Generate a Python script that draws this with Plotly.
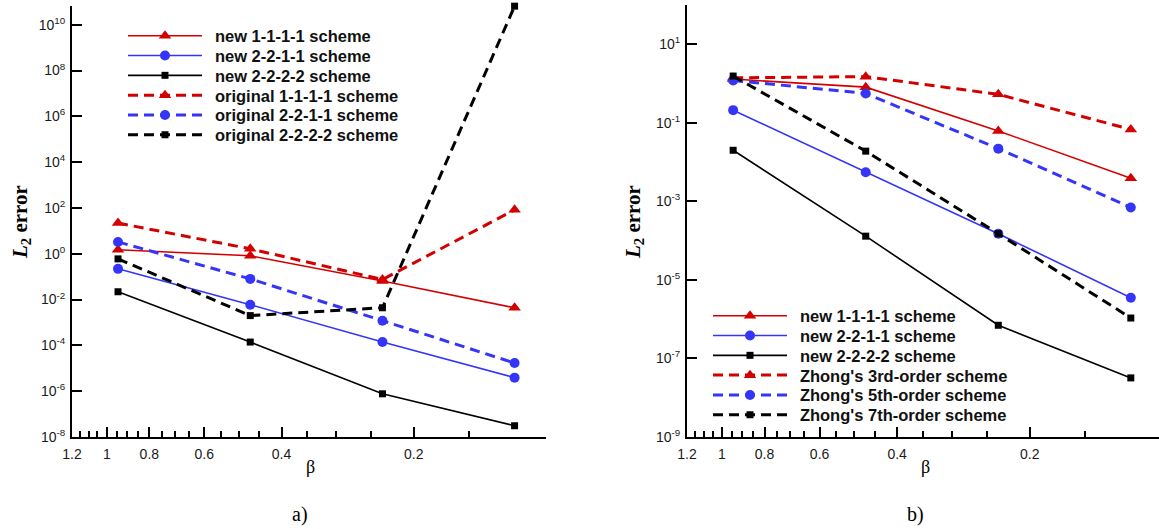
import plotly.graph_objects as go

W, H = 1159, 529

beta = [0.9428, 0.4714, 0.2357, 0.1179]

# panel a) values
a_new_1111 = [1.5, 0.82, 0.065, 0.0044]
a_new_2211 = [0.22, 0.006, 1.4e-4, 3.9e-6]
a_new_2222 = [0.022, 1.4e-4, 7.7e-7, 3.1e-8]
a_orig_1111 = [22, 1.65, 0.075, 83]
a_orig_2211 = [3.3, 0.08, 1.2e-3, 1.7e-5]
a_orig_2222 = [0.6, 2.0e-3, 4.4e-3, 6.5e10]

# panel b) values
b_new_1111 = [1.3, 0.81, 0.062, 0.0039]
b_new_2211 = [0.21, 0.0055, 1.5e-4, 3.5e-6]
b_new_2222 = [0.02, 1.3e-4, 7e-7, 3.2e-8]
b_zhong3 = [1.4, 1.5, 0.53, 0.068]
b_zhong5 = [1.2, 0.56, 0.022, 7e-4]
b_zhong7 = [1.55, 0.019, 1.5e-4, 1.07e-6]

names_a = ["new 1-1-1-1 scheme", "new 2-2-1-1 scheme", "new 2-2-2-2 scheme",
           "original 1-1-1-1 scheme", "original 2-2-1-1 scheme", "original 2-2-2-2 scheme"]
names_b = ["new 1-1-1-1 scheme", "new 2-2-1-1 scheme", "new 2-2-2-2 scheme",
           "Zhong's 3rd-order scheme", "Zhong's 5th-order scheme", "Zhong's 7th-order scheme"]

x_major = [1.2, 1, 0.8, 0.6, 0.4, 0.2]
x_major_text = ["1.2", "1", "0.8", "0.6", "0.4", "0.2"]
x_minor = [1.15, 1.1, 1.05, 0.95, 0.9, 0.85, 0.75, 0.7, 0.65, 0.55, 0.5, 0.45,
           0.35, 0.3, 0.25, 0.15]
ya_exp = [-8, -6, -4, -2, 0, 2, 4, 6, 8, 10]
yb_exp = [-9, -7, -5, -3, -1, 1]

RED = "#d40000"
BLUE = "#3535f8"
BLACK = "#000000"
colors = [RED, BLUE, BLACK, RED, BLUE, BLACK]
symbols = ["triangle-up", "circle", "square", "triangle-up", "circle", "square"]
msizes = [11, 10, 7, 11, 10, 7]
DASH = "10px,6px"
PAD = "\u00a0\u2009"

# legend placement (pixels): left edge of sample line, first row centre, row step
LEG_A = (128, 36, 19.8)
LEG_B = (713, 316, 19.8)

legfont = dict(family="Liberation Sans, Arial", size=16.5, color="#111", weight="bold")

fig = go.Figure()
legends = {}

def add_set(series, names, xa, ya, leg_start, legpos):
    x0, y0, dy = legpos
    for i, (vals, nm) in enumerate(zip(series, names)):
        dashed = i >= 3
        lid = "legend" if leg_start + i == 1 else "legend%d" % (leg_start + i)
        legends[lid] = dict(
            x=(x0 - 5) / W, y=1 - (y0 + i * dy) / H, xanchor="left", yanchor="middle",
            bgcolor="rgba(0,0,0,0)", font=legfont, itemwidth=74, borderwidth=0,
        )
        fig.add_trace(go.Scatter(
            x=beta, y=vals, name=PAD + nm, mode="lines+markers",
            xaxis=xa, yaxis=ya, legend=lid, cliponaxis=False,
            line=dict(color=colors[i], width=3 if dashed else 1.6,
                      dash=DASH if dashed else "solid"),
            marker=dict(symbol=symbols[i], size=msizes[i], color=colors[i],
                        line=dict(width=0)),
        ))

add_set([a_new_1111, a_new_2211, a_new_2222, a_orig_1111, a_orig_2211, a_orig_2222],
        names_a, "x", "y", 1, LEG_A)
add_set([b_new_1111, b_new_2211, b_new_2222, b_zhong3, b_zhong5, b_zhong7],
        names_b, "x2", "y2", 7, LEG_B)

tickfont = dict(family="Liberation Sans, Arial", size=14, color="#1a1a1a")

def xaxis_cfg(domain, rng):
    return dict(
        type="log", domain=domain, range=rng, automargin=False,
        tickmode="array", tickvals=x_major, ticktext=x_major_text,
        ticks="inside", ticklen=10, tickwidth=2, tickcolor="black",
        showline=True, linewidth=2, linecolor="black", mirror=False,
        showgrid=False, zeroline=False, tickfont=tickfont, ticklabelstandoff=3,
        minor=dict(tickmode="array", tickvals=x_minor, ticks="inside",
                   ticklen=6, tickwidth=1.5, tickcolor="black", showgrid=False),
    )

def yaxis_cfg(domain, rng, exps):
    return dict(
        type="log", domain=domain, range=rng, automargin=False,
        tickmode="array", tickvals=[10.0 ** e for e in exps],
        ticktext=["10<sup>%d</sup>" % e for e in exps],
        ticks="inside", ticklen=10, tickwidth=2, tickcolor="black",
        showline=True, linewidth=2, linecolor="black",
        showgrid=False, zeroline=False, tickfont=tickfont, ticklabelstandoff=2,
    )

xa = xaxis_cfg([72 / W, 546 / W], [0.0792, -1.0])
xa["anchor"] = "y"
xb = xaxis_cfg([687 / W, 1.0], [0.0792, -0.9925])
xb["anchor"] = "y2"
ya = yaxis_cfg([1 - 437 / H, 1 - 6 / H], [-8, 10.82], ya_exp)
ya["anchor"] = "x"
yb = yaxis_cfg([1 - 437 / H, 1 - 5 / H], [-9, 2], yb_exp)
yb["anchor"] = "x2"

fig.update_layout(
    width=W, height=H, margin=dict(l=0, r=0, t=0, b=0, autoexpand=False),
    paper_bgcolor="white", plot_bgcolor="white",
    xaxis=xa, yaxis=ya, xaxis2=xb, yaxis2=yb,
    showlegend=True,
    **legends,
)

serif = "Liberation Serif, Times New Roman"
ann = [
    dict(text="<b><i>L</i><sub>2</sub> error</b>", x=21 / W, y=1 - 222 / H, textangle=-90,
         font=dict(family=serif, size=21, color="black")),
    dict(text="<b><i>L</i><sub>2</sub> error</b>", x=634 / W, y=1 - 222 / H, textangle=-90,
         font=dict(family=serif, size=21, color="black")),
    dict(text="β", x=310 / W, y=1 - 467 / H, font=dict(family=serif, size=18, color="black")),
    dict(text="β", x=925 / W, y=1 - 467 / H, font=dict(family=serif, size=18, color="black")),
    dict(text="a)", x=300 / W, y=1 - 514 / H, font=dict(family=serif, size=20, color="black")),
    dict(text="b)", x=915 / W, y=1 - 514 / H, font=dict(family=serif, size=20, color="black")),
]
for a in ann:
    a.update(xref="paper", yref="paper", showarrow=False, xanchor="center", yanchor="middle")
fig.update_layout(annotations=ann)

fig.write_html("out.html", config={"displayModeBar": False},
               post_script="document.body.style.margin='0px';")
